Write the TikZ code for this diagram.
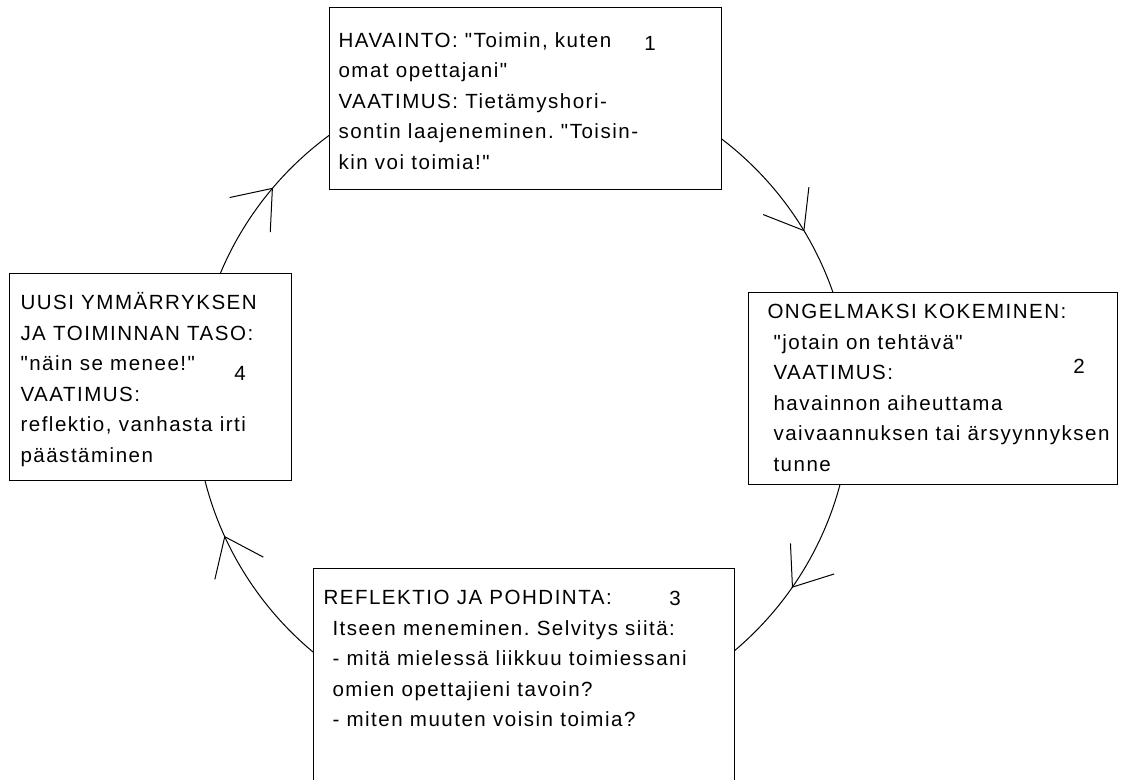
\documentclass[tikz,border=0pt]{standalone}
\usepackage{fontspec}
\setmainfont{Liberation Sans}[LetterSpace=7.3,Ligatures=TeXOff]
\frenchspacing
\usetikzlibrary{arrows.meta,decorations.markings}
\begin{document}
\begin{tikzpicture}[x=0.75pt,y=-0.75pt,line width=0.75pt,
  every node/.style={font=\fontsize{15.4pt}{22.9pt}\selectfont,inner sep=0pt},
  stagebox/.style={draw,fill=white,line width=0.9pt,anchor=north west},
  stagetext/.style={align=left,anchor=north west},
  flowtip/.tip={Straight Barb[length=26pt,width=40pt]},
  loopflow/.style={postaction={decorate},decoration={markings,
    mark=at position 0.097 with {\arrow{flowtip}},
    mark=at position 0.432 with {\arrow{flowtip}},
    mark=at position 0.612 with {\arrow{flowtip}},
    mark=at position 0.914 with {\arrow{flowtip}}}}]
\clip (0,0) rectangle (1134,780);
\coordinate (C) at (523,400);
\draw[loopflow] (C) circle[radius=328];
\node[stagebox,minimum width=294pt,minimum height=136.5pt] (b1) at (329,7) {};
\node[stagebox,minimum width=276.75pt,minimum height=144pt] (b2) at (748,292) {};
\node[stagebox,minimum width=315.75pt,minimum height=174pt] (b3) at (313,568) {};
\node[stagebox,minimum width=211.5pt,minimum height=155.25pt] (b4) at (9,273) {};
\node[stagetext] (t1) at (338,32) {HAVAINTO: "Toimin, kuten\\omat opettajani"\\VAATIMUS: Tietämyshori-\\sontin laajeneminen. "Toisin-\\kin voi toimia!"};
\node[stagetext] (t2) at (767,304) {ONGELMAKSI KOKEMINEN:\\\hspace*{4.5pt}"jotain on tehtävä"\\\hspace*{4.5pt}VAATIMUS:\\\hspace*{4.5pt}havainnon aiheuttama\\\hspace*{4.5pt}vaivaannuksen tai ärsyynnyksen\\\hspace*{4.5pt}tunne};
\node[stagetext] (t3) at (323,590) {REFLEKTIO JA POHDINTA:\\\hspace*{6.75pt}Itseen meneminen. Selvitys siitä:\\\hspace*{6.75pt}- mitä mielessä liikkuu toimiessani\\\hspace*{6.75pt}omien opettajieni tavoin?\\\hspace*{6.75pt}- miten muuten voisin toimia?};
\node[stagetext] (t4) at (20,292) {UUSI YMMÄRRYKSEN\\JA TOIMINNAN TASO:\\"näin se menee!"\\VAATIMUS:\\reflektio, vanhasta irti\\päästäminen};
\node (n1) at (650,43) {1};
\node (n2) at (1079,366) {2};
\node (n3) at (675,598) {3};
\node (n4) at (240,373) {4};
\end{tikzpicture}
\end{document}
